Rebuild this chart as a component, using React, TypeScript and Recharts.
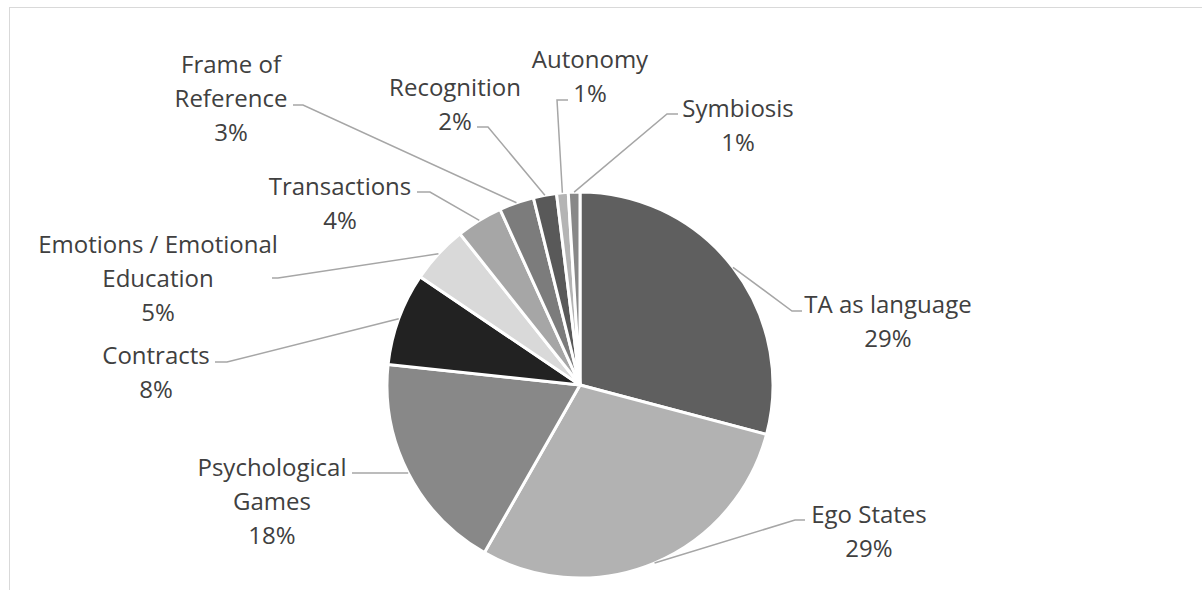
import React from "react"
import { PieChart, Pie, Cell } from "recharts"

const CATEGORIES = [
  "TA as language",
  "Ego States",
  "Psychological Games",
  "Contracts",
  "Emotions / Emotional Education",
  "Transactions",
  "Frame of Reference",
  "Recognition",
  "Autonomy",
  "Symbiosis",
]

const COUNTS = [30, 30, 19, 8, 5, 4, 3, 2, 1, 1]

// how each category name wraps in the data label
const LABEL_LINES = [
  ["TA as language"],
  ["Ego States"],
  ["Psychological", "Games"],
  ["Contracts"],
  ["Emotions / Emotional", "Education"],
  ["Transactions"],
  ["Frame of", "Reference"],
  ["Recognition"],
  ["Autonomy"],
  ["Symbiosis"],
]

const COLORS = ["#5f5f5f", "#b2b2b2", "#888888", "#222222", "#d9d9d9", "#a6a6a6", "#7c7c7c", "#595959", "#b4b4b4", "#888888"]

// label box: text centre x, first line y, leader elbow (ex, ey) and leader end x
const LABEL_LAYOUT = [
  { x: 888, y: 303, ex: 792, ey: 311, endX: 802 },
  { x: 869, y: 513, ex: 795, ey: 520, endX: 805 },
  { x: 272, y: 466, ex: 365, ey: 473, endX: 352 },
  { x: 156, y: 354, ex: 227, ey: 362, endX: 215 },
  { x: 158, y: 243, ex: 278, ey: 278, endX: 272 },
  { x: 340, y: 185, ex: 430, ey: 192, endX: 417 },
  { x: 231, y: 63, ex: 303, ey: 105, endX: 293 },
  { x: 455, y: 86, ex: 488, ey: 127, endX: 477 },
  { x: 590, y: 58, ex: 557, ey: 100, endX: 568 },
  { x: 738, y: 107, ex: 667, ey: 114, endX: 678 },
]

const data = CATEGORIES.map((name, i) => ({ name, value: COUNTS[i] }))
const total = COUNTS.reduce((s, v) => s + v, 0)

const RAD = Math.PI / 180
const LINE_H = 34

function renderLabel(props: any) {
  const { cx, cy, midAngle, outerRadius, index } = props
  const lay = LABEL_LAYOUT[index]
  const sx = cx + outerRadius * Math.cos(-midAngle * RAD)
  const sy = cy + outerRadius * Math.sin(-midAngle * RAD)
  const pct = `${Math.round((COUNTS[index] / total) * 100)}%`
  const lines = [...LABEL_LINES[index], pct]
  return (
    <g key={`lbl-${index}`}>
      <polyline
        points={`${sx},${sy} ${lay.ex},${lay.ey} ${lay.endX},${lay.ey}`}
        fill="none"
        stroke="#a6a6a6"
        strokeWidth={1.5}
      />
      <text
        x={lay.x}
        y={lay.y}
        textAnchor="middle"
        fill="#404040"
        fontFamily="'Open Sans', sans-serif"
        fontSize={24}
      >
        {lines.map((l, i) => (
          <tspan key={i} x={lay.x} y={lay.y + i * LINE_H} dominantBaseline="central">
            {l}
          </tspan>
        ))}
      </text>
    </g>
  )
}

export default function App() {
  return (
    <div style={{ position: "relative", width: 1202, height: 590, overflow: "hidden", background: "#fff" }}>
      <style>{"body{margin:0}"}</style>
      <PieChart width={1202} height={590}>
        <Pie
          data={data}
          dataKey="value"
          nameKey="name"
          cx={575}
          cy={380}
          outerRadius={193}
          startAngle={90}
          endAngle={-270}
          stroke="#ffffff"
          strokeWidth={3}
          label={renderLabel}
          labelLine={false}
          isAnimationActive={false}
        >
          {data.map((entry, index) => (
            <Cell key={`cell-${index}`} fill={COLORS[index]} />
          ))}
        </Pie>
      </PieChart>
      <div
        style={{
          position: "absolute",
          left: 9,
          top: 7,
          width: 1300,
          height: 700,
          border: "1px solid #d9d9d9",
          pointerEvents: "none",
        }}
      />
    </div>
  )
}
